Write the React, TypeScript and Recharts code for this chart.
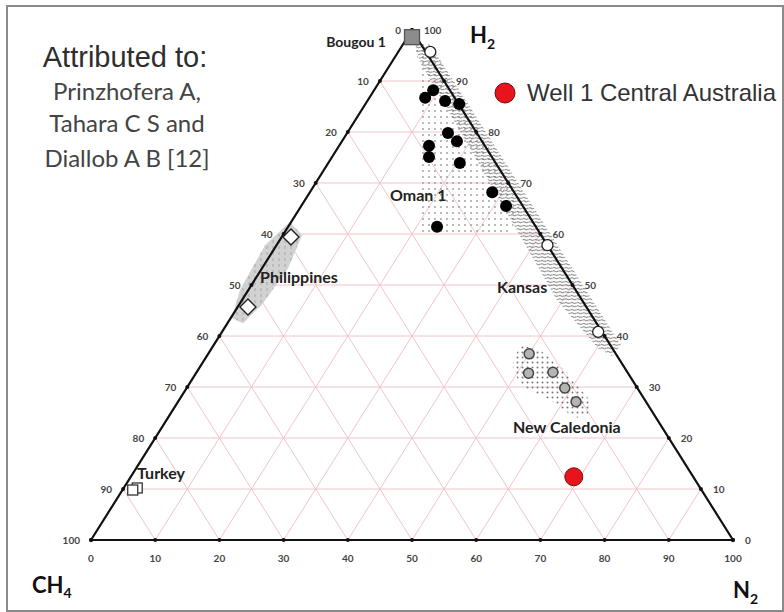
import { ScatterChart, Scatter, XAxis, YAxis } from 'recharts'

// compositions in % — H2 and N2, CH4 is the remainder
const omanH2 = [88.2, 86.7, 86.1, 85.5, 79.8, 78.2, 77.3, 75.1, 73.9, 68.2, 65.5, 61.4]
const omanN2 = [9.2, 8.7, 12.1, 14.6, 15.7, 17.9, 14.0, 15.1, 20.5, 28.4, 31.9, 23.2]
const kansasH2 = [95.7, 57.8, 40.8]
const kansasN2 = [5.0, 42.2, 58.6]
const philH2 = [59.4, 45.7]
const philN2 = [1.45, 1.6]
const caledH2 = [36.5, 32.7, 32.9, 29.8, 27.1]
const caledN2 = [50.0, 51.8, 55.5, 58.9, 62.0]
const turkeyH2 = [10.2, 9.8]
const turkeyN2 = [2.1, 1.6]
const bougouH2 = [98.6]
const bougouN2 = [0.7]
const wellH2 = [12.4]
const wellN2 = [69.0]

// outlines of the shaded fields, [H2, N2]
const omanField = [[98.4, 0.8], [94.1, 3.9], [82.4, 10.0], [60.4, 21.0], [60.4, 35.1], [64.7, 34.5], [84.3, 16.9], [97.1, 4.25]]
const kansasField = [[98.0, 1.3], [95.1, 6.35], [38.2, 63.45], [36.1, 63.1], [37.6, 60.2], [47.1, 49.0], [76.5, 20.9], [93.7, 4.4]]
const philField = [[62.35, -0.2], [59.8, 3.0], [53.3, 4.05], [46.1, 3.55], [42.5, 2.45], [43.5, 0.2], [49.0, -1.3], [57.8, -1.8]]
const caledField = [[38.2, 47.7], [37.25, 51.3], [33.3, 57.15], [27.45, 63.95], [24.5, 65.15], [23.9, 63.45], [27.45, 57.8], [30.4, 51.6], [34.3, 48.45]]

const ticks = [0, 10, 20, 30, 40, 50, 60, 70, 80, 90, 100]
const gridLevels = [10, 20, 30, 40, 50, 60, 70, 80, 90]

const tern = (h2: number, n2: number) => ({ x: n2 + h2 / 2, y: h2 })
const pts = (h2: number[], n2: number[]) => h2.map((h, i) => tern(h, n2[i]))
const field = (f: number[][]) => f.map(([h, n]) => tern(h, n))

const gridPts = [
  ...gridLevels.flatMap(k => [tern(k, 0), tern(k, 100 - k)]),
  ...gridLevels.flatMap(k => [tern(0, k), tern(100 - k, k)]),
  ...gridLevels.flatMap(k => [tern(0, 100 - k), tern(100 - k, 0)]),
]
const edgePts = [tern(0, 0), tern(0, 100), tern(0, 100), tern(100, 0), tern(100, 0), tern(0, 0)]

const bottomTicks = ticks.map(t => ({ ...tern(0, t), label: t }))
const rightTicks = ticks.map(t => ({ ...tern(t, 100 - t), label: t }))
const leftTicks = ticks.map(t => ({ ...tern(100 - t, 0), label: t }))

const FONT = 'Lato, "Open Sans", sans-serif'
const none = () => <g />

const segLine = (stroke: string, width: number) => (p: any) => {
  const q = p.points
  let d = ''
  for (let i = 0; i + 1 < q.length; i += 2) d += `M${q[i].x},${q[i].y}L${q[i + 1].x},${q[i + 1].y}`
  return <path d={d} stroke={stroke} strokeWidth={width} fill="none" strokeLinecap="round" />
}

const areaLine = (fill: string, stroke = 'none') => (p: any) => (
  <path d={'M' + p.points.map((q: any) => `${q.x},${q.y}`).join('L') + 'Z'} fill={fill} stroke={stroke} />
)

const tickShape = (dx: number, dy: number, anchor: 'start' | 'middle' | 'end') => (p: any) => (
  <g>
    <circle cx={p.cx} cy={p.cy} r={2} fill="#111" />
    <text x={p.cx + dx} y={p.cy + dy} textAnchor={anchor} dominantBaseline="central"
      fontSize={10} fontWeight={700} fill="#444" fontFamily={FONT}>{p.payload.label}</text>
  </g>
)

const dot = (r: number, fill: string, stroke = 'none', sw = 1) => (p: any) => (
  <circle cx={p.cx} cy={p.cy} r={r} fill={fill} stroke={stroke} strokeWidth={sw} />
)
const square = (s: number, fill: string, stroke: string) => (p: any) => (
  <rect x={p.cx - s / 2} y={p.cy - s / 2} width={s} height={s} fill={fill} stroke={stroke} strokeWidth={1.3} />
)
const diamond = (s: number) => (p: any) => (
  <polygon points={`${p.cx},${p.cy - s} ${p.cx + s},${p.cy} ${p.cx},${p.cy + s} ${p.cx - s},${p.cy}`}
    fill="#fff" stroke="#222" strokeWidth={1.4} />
)

const label = { fontFamily: FONT, fontWeight: 700, fontSize: 16, fill: '#222' }

export default function App() {
  return (
    <div style={{ position: 'absolute', left: 0, top: 0, width: 784, height: 612, background: '#fff' }}>
      <svg width={0} height={0} style={{ position: 'absolute' }}>
        <defs>
          <pattern id="omanDots" width={6} height={6} patternUnits="userSpaceOnUse">
            <circle cx={3} cy={3} r={0.9} fill="#9a9a9a" />
          </pattern>
          <pattern id="caledDots" width={5} height={5} patternUnits="userSpaceOnUse">
            <circle cx={2.5} cy={2.5} r={1} fill="#777" />
          </pattern>
          <pattern id="kansasHatch" width={6} height={3.5} patternUnits="userSpaceOnUse">
            <path d="M0.3,2.2 Q1.8,0.6 3.2,1.8 T6,1.6" stroke="#6f6f6f" strokeWidth={0.9} fill="none" />
          </pattern>
          <pattern id="philHatch" width={6} height={6} patternUnits="userSpaceOnUse">
            <rect width={6} height={6} fill="#d2d2d2" />
            <line x1={3} y1={0} x2={3} y2={3} stroke="#9c9c9c" strokeWidth={0.8} />
          </pattern>
        </defs>
      </svg>
      <div style={{ position: 'absolute', left: 6, top: 5, width: 774, height: 603, border: '2px solid #8a8a8a' }} />
      <div style={{ position: 'absolute', left: 0, top: 0 }}>
        <ScatterChart width={784} height={612} margin={{ top: 30, right: 51, bottom: 72, left: 91 }}>
          <XAxis type="number" dataKey="x" domain={[0, 100]} hide />
          <YAxis type="number" dataKey="y" domain={[0, 100]} hide />
          <Scatter data={gridPts} shape={none} line={segLine('#f0c4c8', 1)} isAnimationActive={false} />
          <Scatter data={field(omanField)} shape={none} line={areaLine('url(#omanDots)')} isAnimationActive={false} />
          <Scatter data={field(kansasField)} shape={none} line={areaLine('url(#kansasHatch)')} isAnimationActive={false} />
          <Scatter data={field(philField)} shape={none} line={areaLine('url(#philHatch)')} isAnimationActive={false} />
          <Scatter data={field(caledField)} shape={none} line={areaLine('url(#caledDots)')} isAnimationActive={false} />
          <Scatter data={edgePts} shape={none} line={segLine('#111', 2.2)} isAnimationActive={false} />
          <Scatter data={bottomTicks} shape={tickShape(0, 18, 'middle')} isAnimationActive={false} />
          <Scatter data={rightTicks} shape={tickShape(12, 0, 'start')} isAnimationActive={false} />
          <Scatter data={leftTicks} shape={tickShape(-11, 0, 'end')} isAnimationActive={false} />
          <Scatter data={pts(omanH2, omanN2)} shape={dot(6, '#000')} isAnimationActive={false} />
          <Scatter data={pts(kansasH2, kansasN2)} shape={dot(5.5, '#fff', '#222', 1.3)} isAnimationActive={false} />
          <Scatter data={pts(philH2, philN2)} shape={diamond(8)} isAnimationActive={false} />
          <Scatter data={pts(caledH2, caledN2)} shape={dot(5, '#b4b4b4', '#444', 1.5)} isAnimationActive={false} />
          <Scatter data={pts(turkeyH2, turkeyN2)} shape={square(10, '#fff', '#333')} isAnimationActive={false} />
          <Scatter data={pts(bougouH2, bougouN2)} shape={square(15, '#8c8c8c', '#555')} isAnimationActive={false} />
          <Scatter data={pts(wellH2, wellN2)} shape={dot(9, '#e8141b', '#7a0a0a', 1)} isAnimationActive={false} />
        </ScatterChart>
      </div>
      <svg width={784} height={612} style={{ position: 'absolute', left: 0, top: 0, pointerEvents: 'none' }}>
        <text x={125} y={67} textAnchor="middle" fontFamily='"Liberation Sans", Arial, sans-serif' fontSize={29} fill="#2e2e2e">Attributed to:</text>
        <g fontFamily={FONT} fontSize={24} fill="#444" textAnchor="middle">
          <text x={127} y={100}>Prinzhofera A,</text>
          <text x={127} y={132}>Tahara C S and</text>
          <text x={127} y={167}>Diallob A B [12]</text>
        </g>
        <circle cx={505} cy={93} r={10} fill="#e8141b" stroke="#7a0a0a" strokeWidth={1} />
        <text x={527} y={101} fontFamily='"Liberation Sans", Arial, sans-serif' fontSize={24} fill="#333">Well 1 Central Australia</text>
        <text x={386} y={47} textAnchor="end" {...label} fontSize={14}>Bougou 1</text>
        <text x={390} y={201} {...label}>Oman 1</text>
        <text x={497} y={293} {...label}>Kansas</text>
        <text x={260} y={283} {...label}>Philippines</text>
        <text x={513} y={433} {...label}>New Caledonia</text>
        <text x={137} y={479} {...label}>Turkey</text>
        <g fontFamily={FONT} fontWeight={700} fill="#111">
          <text x={470} y={43} fontSize={22}>H<tspan fontSize={14} dy={6}>2</tspan></text>
          <text x={32} y={593} fontSize={22}>CH<tspan fontSize={14} dy={5}>4</tspan></text>
          <text x={733} y={598} fontSize={22}>N<tspan fontSize={14} dy={6}>2</tspan></text>
        </g>
      </svg>
    </div>
  )
}
